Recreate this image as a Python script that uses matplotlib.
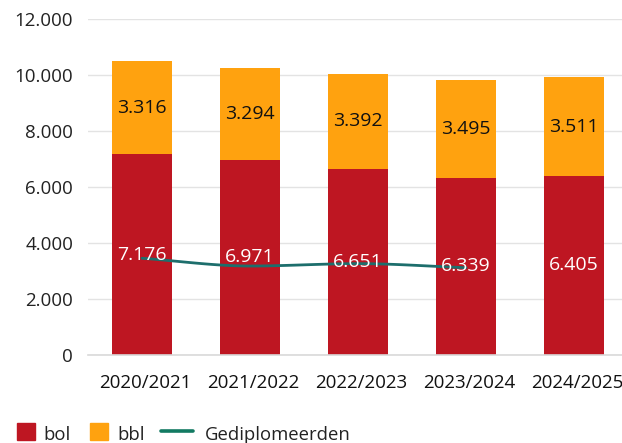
import numpy as np
import matplotlib
matplotlib.use("Agg")
import matplotlib.pyplot as plt
import matplotlib.transforms as mtransforms
from matplotlib.patches import Rectangle
from matplotlib.lines import Line2D

plt.rcParams['font.family'] = ['Open Sans', 'DejaVu Sans']

years = ["2020/2021", "2021/2022", "2022/2023", "2023/2024", "2024/2025"]
bol = [7176, 6971, 6651, 6339, 6405]
bbl = [3316, 3294, 3392, 3495, 3511]
gediplomeerden = [3455, 3178, 3262, 3118]

RED = '#be1622'
ORANGE = '#ffa20f'
TEAL = '#1d6e6c'
LEG_TEAL = '#127a62'

W, H = 622, 443

def fmt(v):
    return f"{v:,.0f}".replace(",", ".")

fig = plt.figure(figsize=(W/100, H/100), dpi=100)
ax = fig.add_axes([88/W, (H-355)/H, 540/W, 336/H])

x = np.arange(len(years))
w = 0.555
ax.bar(x, bol, w, color=RED, zorder=2)
ax.bar(x, bbl, w, bottom=bol, color=ORANGE, zorder=2)

for i in range(len(years)):
    ax.text(x[i], bol[i] / 2, fmt(bol[i]), ha='center', va='center',
            color='white', fontsize=14, zorder=5)
    ax.text(x[i], bol[i] + bbl[i] / 2, fmt(bbl[i]), ha='center', va='center',
            color='#111111', fontsize=14, zorder=5)

# smooth line (cubic hermite through the read points)
gx = np.arange(len(gediplomeerden), dtype=float)
gy = np.array(gediplomeerden, dtype=float)
n = len(gx)
m = np.zeros(n)
d = np.diff(gy)
for k in range(1, n - 1):
    if d[k - 1] * d[k] > 0:
        m[k] = 2 / (1 / d[k - 1] + 1 / d[k])
    else:
        m[k] = 0
m[0] = d[0]
m[-1] = d[-1]
xs, ys = [], []
for k in range(n - 1):
    t = np.linspace(0, 1, 30)
    h00 = 2*t**3 - 3*t**2 + 1
    h10 = t**3 - 2*t**2 + t
    h01 = -2*t**3 + 3*t**2
    h11 = t**3 - t**2
    xs.extend(gx[k] + t)
    ys.extend(h00*gy[k] + h10*m[k] + h01*gy[k+1] + h11*m[k+1])
ax.plot(xs, ys, color=TEAL, lw=2, zorder=4, solid_capstyle='round')

ax.set_ylim(0, 12000)
ax.set_xlim(-0.5, len(years) - 0.5)
yt = np.arange(0, 12001, 2000)
ax.set_yticks(yt)
ax.set_yticklabels([fmt(v) for v in yt], fontsize=13.5, color='#222222')
ax.set_xticks(x)
ax.set_xticklabels(years, fontsize=13.5, color='#111111')
ax.tick_params(axis='y', length=0, pad=10.8)
ax.tick_params(axis='x', length=0, pad=13.5)
shift = mtransforms.ScaledTranslation(3/100, 0, fig.dpi_scale_trans)
for lbl in ax.get_xticklabels():
    lbl.set_transform(lbl.get_transform() + shift)
ax.grid(axis='y', color='#e3e3e3', lw=1, zorder=0)
for s in ['top', 'right', 'left']:
    ax.spines[s].set_visible(False)
ax.spines['bottom'].set_color('#d9d9d9')
ax.spines['bottom'].set_linewidth(1.2)
ax.set_axisbelow(True)

# legend (drawn in figure pixel coordinates)
def fx(px):
    return px / W

def fy(py):
    return (H - py) / H

LY = 439.5  # text baseline
for x0, col, lab, tx in [(17, RED, 'bol', 43), (90, ORANGE, 'bbl', 117)]:
    fig.patches.append(Rectangle((fx(x0), fy(LY + 0.5)), 17.5/W, 17.5/H, color=col,
                                 transform=fig.transFigure, figure=fig))
    fig.text(fx(tx), fy(LY), lab, fontsize=13.3, color='#222222',
             ha='left', va='baseline')
fig.add_artist(Line2D([fx(161), fx(193)], [fy(LY - 8.5), fy(LY - 8.5)], color=LEG_TEAL,
                      lw=2.6, transform=fig.transFigure, solid_capstyle='round'))
fig.text(fx(205), fy(LY), 'Gediplomeerden', fontsize=13.3, color='#222222',
         ha='left', va='baseline')

fig.savefig('out.png', dpi=100)
